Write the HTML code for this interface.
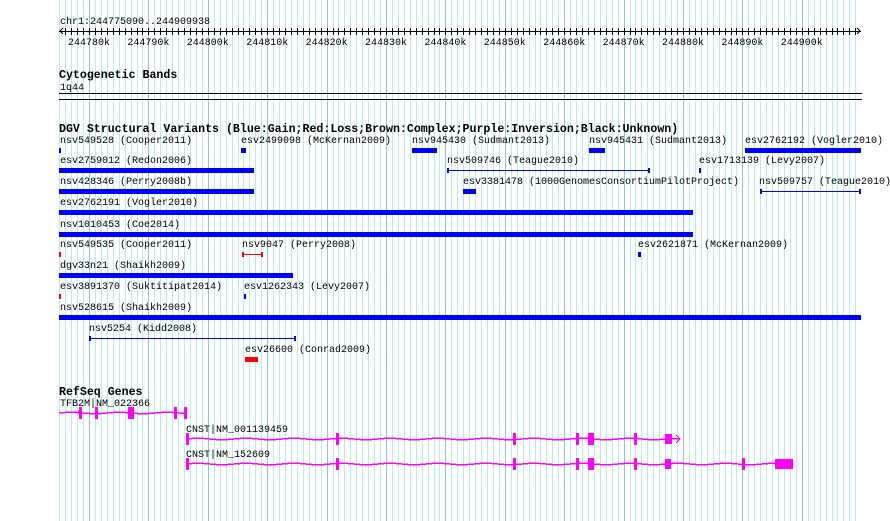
<!DOCTYPE html>
<html><head><meta charset="utf-8"><style>
html,body{margin:0;padding:0;background:#fff;width:890px;height:521px;overflow:hidden}
svg text{font-family:"Liberation Mono",monospace;font-size:10px;fill:#000}
svg text.b{font-weight:bold;font-size:11.6px}
</style></head><body>
<svg id="s" width="890" height="521" xmlns="http://www.w3.org/2000/svg" shape-rendering="crispEdges">
<g id="grid"></g>
<g id="ruler"></g>
<text x="60" y="24">chr1:244775090..244909938</text>
<text class="b" x="59" y="78">Cytogenetic Bands</text>
<text x="60" y="90">1q44</text>
<rect x="59" y="93" width="803" height="1" fill="#000"/>
<rect x="59" y="99" width="803" height="1" fill="#000"/>
<text class="b" x="59" y="132">DGV Structural Variants (Blue:Gain;Red:Loss;Brown:Complex;Purple:Inversion;Black:Unknown)</text>
<g id="dgv"></g>
<text class="b" x="59" y="395">RefSeq Genes</text>
<text x="60" y="406">TFB2M|NM_022366</text>
<text x="186" y="432">CNST|NM_001139459</text>
<text x="186" y="457">CNST|NM_152609</text>
<g id="genes"></g>
</svg>
<script>
const NS="http://www.w3.org/2000/svg";
function el(p,t,a){const e=document.createElementNS(NS,t);for(const k in a)e.setAttribute(k,a[k]);p.appendChild(e);return e;}
const g=document.getElementById('grid');
for(let k=-5;k<=129;k++){const x=Math.round(89+k*5.94);
 el(g,'rect',{x:x,y:0,width:1,height:521,fill:(k%10==0)?'#8cc4e8':'#b4ecf0'});}
const r=document.getElementById('ruler');
el(r,'rect',{x:59,y:31,width:802,height:1,fill:'#000'});
for(let k=-4;k<=129;k++){const x=Math.round(89+k*5.94);el(r,'rect',{x:x,y:28,width:1,height:7,fill:'#000'});}
el(r,'polyline',{points:'63,28 60,31 63,34',fill:'none',stroke:'#000','stroke-width':1});
el(r,'polyline',{points:'857,28 860,31 857,34',fill:'none',stroke:'#000','stroke-width':1});
for(let i=0;i<=12;i++){const x=89+i*59.4;const t=el(r,'text',{x:x,y:45,'text-anchor':'middle'});t.textContent=(244780+i*10)+'k';}
const d=document.getElementById('dgv');
const B='#0000ff',R='#ff0000';
const tops=[148,168,189,210,232,252,273,294,315,336,357];
const items=[
[0,60,'nsv549528 (Cooper2011)','bar',59,61,B],
[0,241,'esv2499098 (McKernan2009)','bar',241,246,B],
[0,412,'nsv945430 (Sudmant2013)','bar',412,437,B],
[0,589,'nsv945431 (Sudmant2013)','bar',589,605,B],
[0,745,'esv2762192 (Vogler2010)','bar',745,861,B],
[1,60,'esv2759012 (Redon2006)','bar',59,254,B],
[1,447,'nsv509746 (Teague2010)','line',447,650,B],
[1,699,'esv1713139 (Levy2007)','bar',699,701,B],
[2,60,'nsv428346 (Perry2008b)','bar',59,254,B],
[2,463,'esv3381478 (1000GenomesConsortiumPilotProject)','bar',463,476,B],
[2,759,'nsv509757 (Teague2010)','line',760,861,B],
[3,60,'esv2762191 (Vogler2010)','bar',59,693,B],
[4,60,'nsv1010453 (Coe2014)','bar',59,693,B],
[5,60,'nsv549535 (Cooper2011)','bar',59,61,R],
[5,242,'nsv9047 (Perry2008)','line',242,263,R],
[5,638,'esv2621871 (McKernan2009)','bar',638,641,B],
[6,60,'dgv33n21 (Shaikh2009)','bar',59,293,B],
[7,60,'esv3891370 (Suktitipat2014)','bar',59,61,R],
[7,244,'esv1262343 (Levy2007)','bar',244,246,B],
[8,60,'nsv528615 (Shaikh2009)','bar',59,861,B],
[9,89,'nsv5254 (Kidd2008)','line',89,296,B],
[10,245,'esv26600 (Conrad2009)','bar',245,258,R]];
for(const [row,lx,lab,type,x1,x2,c] of items){const y=tops[row];
 const t=el(d,'text',{x:lx,y:y-5});t.textContent=lab;
 if(type=='bar')el(d,'rect',{x:x1,y:y,width:x2-x1,height:5,fill:c});
 else{el(d,'rect',{x:x1,y:y+2,width:x2-x1,height:1,fill:c});el(d,'rect',{x:x1,y:y,width:2,height:5,fill:c});el(d,'rect',{x:x2-2,y:y,width:2,height:5,fill:c});}}
const gn=document.getElementById('genes');const M='#ff00ff';
function gene(y,x1,x2,exons,boxes){
 let pts=[];for(let x=x1;x<=x2;x+=12){pts.push(x+','+(y+((Math.floor((x-x1)/12)%4==1)?-1:(Math.floor((x-x1)/12)%4==3?1:0))));}
 el(gn,'polyline',{points:pts.join(' ')+' '+x2+','+y,fill:'none',stroke:M,'stroke-width':1.5});
 for(const x of exons)el(gn,'rect',{x:x,y:y-6,width:3,height:12,fill:M});
 for(const [a,b,h] of boxes)el(gn,'rect',{x:a,y:y-h/2,width:b-a,height:h,fill:M});}
gene(413,59,186,[79,95,128,131,174,184],[]);
el(gn,'polyline',{points:'82,409 78,412 82,416',fill:'none',stroke:M,'stroke-width':1});
gene(439,186,672,[186,336,513,576,588,591,634],[[665,672,10]]);
el(gn,'rect',{x:672,y:438,width:8,height:1.5,fill:M});
el(gn,'polyline',{points:'676,435 680,439 676,443',fill:'none',stroke:M,'stroke-width':1});
gene(464,186,793,[186,336,513,576,588,591,634,742],[[665,671,10],[775,793,10]]);
</script>
</body></html>
